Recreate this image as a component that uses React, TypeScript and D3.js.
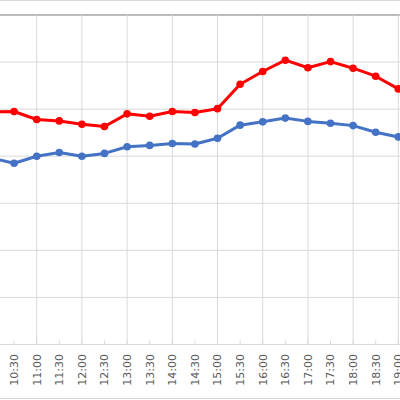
import React from "react";
import * as d3 from "d3";

// half-hour categories along the x axis
const times = [
  "10:00", "10:30", "11:00", "11:30", "12:00", "12:30", "13:00", "13:30",
  "14:00", "14:30", "15:00", "15:30", "16:00", "16:30", "17:00", "17:30",
  "18:00", "18:30", "19:00",
];

const redSeries = [
  49.4, 49.5, 47.8, 47.5, 46.8, 46.3, 49.0, 48.5, 49.5, 49.3,
  50.1, 55.3, 58.0, 60.4, 58.8, 60.1, 58.7, 57.0, 54.3,
];

const blueSeries = [
  39.6, 38.5, 40.0, 40.8, 40.0, 40.6, 42.0, 42.3, 42.7, 42.6,
  43.8, 46.6, 47.3, 48.1, 47.4, 47.0, 46.5, 45.1, 44.1,
];

const yTicks = [0, 10, 20, 30, 40, 50, 60, 70];

const width = 400;
const height = 400;

const App: React.FC = () => {
  // the plot is cropped: its left edge sits past the frame
  const x = d3.scalePoint<string>().domain(times).range([-8.5, 398.3]);
  const y = d3.scaleLinear().domain([0, 70]).range([344.5, 15]);

  const line = d3
    .line<number>()
    .x((_, i) => x(times[i]) ?? 0)
    .y((d) => y(d));

  const series = [
    { values: blueSeries, color: "#4472c4" },
    { values: redSeries, color: "#ff0000" },
  ];

  const hourTicks = times.filter((t) => t.endsWith(":00"));

  return (
    <svg
      width={width}
      height={height}
      style={{ position: "absolute", left: 0, top: 0, background: "#fff" }}
    >
      {/* chart frame */}
      <line x1={0} x2={width} y1={0.5} y2={0.5} stroke="#d9d9d9" />
      <line x1={0} x2={width} y1={398.5} y2={398.5} stroke="#d9d9d9" />

      {/* horizontal gridlines */}
      {yTicks.map((t) => (
        <line
          key={t}
          x1={0}
          x2={width}
          y1={y(t)}
          y2={y(t)}
          stroke={t === 70 ? "#a6a6a6" : "#d9d9d9"}
          strokeWidth={t === 70 ? 1.5 : 1}
        />
      ))}

      {/* vertical gridlines on the hours */}
      {hourTicks.map((t) => (
        <line
          key={t}
          x1={x(t)}
          x2={x(t)}
          y1={y(70)}
          y2={y(0)}
          stroke="#d9d9d9"
        />
      ))}

      {/* tick marks */}
      {times.map((t) => (
        <line
          key={t}
          x1={x(t)}
          x2={x(t)}
          y1={y(0) - 4}
          y2={y(0)}
          stroke="#d9d9d9"
        />
      ))}

      {/* category labels */}
      {times.map((t) => (
        <text
          key={t}
          transform={`translate(${x(t)},${y(0) + 9.5}) rotate(-90)`}
          textAnchor="end"
          dy="0.36em"
          fontFamily="DejaVu Sans"
          fontSize={11}
          fill="#595959"
        >
          {t}
        </text>
      ))}

      {/* series */}
      {series.map((s) => (
        <g key={s.color}>
          <path
            d={line(s.values) ?? ""}
            fill="none"
            stroke={s.color}
            strokeWidth={3}
            strokeLinejoin="round"
          />
          {s.values.map((v, i) => (
            <circle
              key={i}
              cx={x(times[i])}
              cy={y(v)}
              r={3.8}
              fill={s.color}
            />
          ))}
        </g>
      ))}
    </svg>
  );
};

export default App;
